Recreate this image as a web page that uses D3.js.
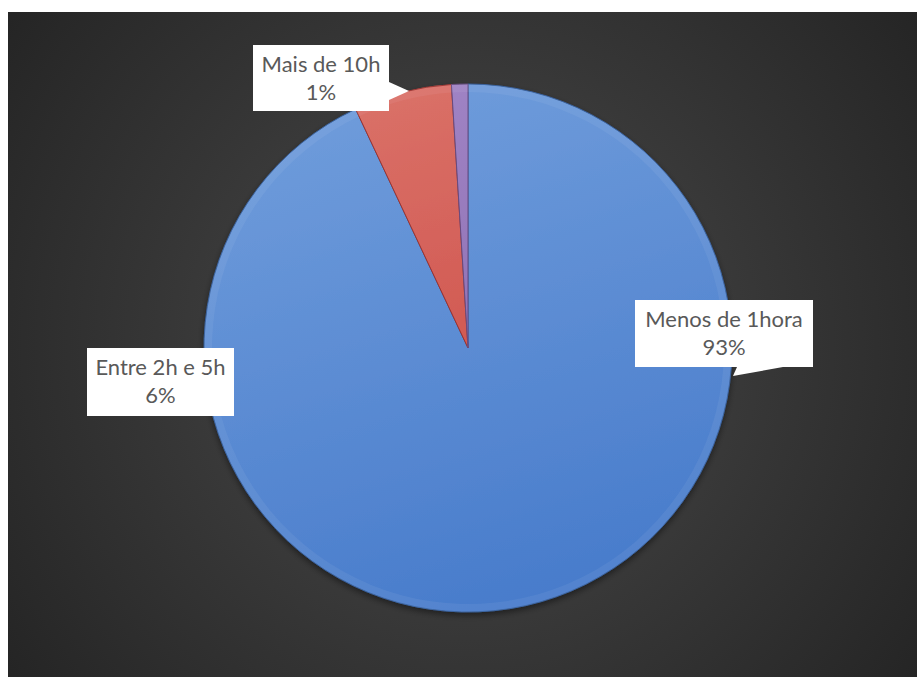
<!DOCTYPE html>
<html>
<head>
<meta charset="utf-8">
<script src="https://cdn.jsdelivr.net/npm/d3@7"></script>
<style>
  html, body { margin: 0; padding: 0; background: #ffffff; }
  svg { display: block; }
</style>
</head>
<body>
<svg id="chart" width="917" height="677"></svg>
<script>
// Tempo gasto: categorias e percentagens
const categories = ["Menos de 1hora", "Entre 2h e 5h", "Mais de 10h"];
const values = [93, 6, 1];
const valueLabels = ["93%", "6%", "1%"];

const W = 917, H = 677;
const svg = d3.select("#chart");
const defs = svg.append("defs");

// Dark panel with a soft radial glow
const bg = defs.append("radialGradient").attr("id", "bgGrad")
  .attr("gradientUnits", "userSpaceOnUse")
  .attr("cx", 465).attr("cy", 345).attr("r", 560);
bg.append("stop").attr("offset", "0%").attr("stop-color", "#4b4b4b");
bg.append("stop").attr("offset", "55%").attr("stop-color", "#363636");
bg.append("stop").attr("offset", "100%").attr("stop-color", "#252525");

svg.append("rect")
  .attr("x", 8).attr("y", 12).attr("width", W - 8).attr("height", H - 12)
  .attr("fill", "url(#bgGrad)");

// Slice colours (top, bottom)
const palette = [
  ["#6f9cdb", "#477bcb"],
  ["#da7168", "#c9423d"],
  ["#a084c5", "#8362a6"]
];
const cx = 468, cy = 348, R = 264;

// gradients are resolved in the pie group's own (centred) coordinates
palette.forEach((c, i) => {
  const g = defs.append("linearGradient").attr("id", "slice" + i)
    .attr("gradientUnits", "userSpaceOnUse")
    .attr("x1", -R * 0.3).attr("y1", -R).attr("x2", R * 0.3).attr("y2", R);
  g.append("stop").attr("offset", "0%").attr("stop-color", c[0]);
  g.append("stop").attr("offset", "100%").attr("stop-color", c[1]);
});

const shadow = defs.append("filter").attr("id", "pieShadow")
  .attr("x", "-10%").attr("y", "-10%").attr("width", "120%").attr("height", "120%");
shadow.append("feDropShadow").attr("dx", 0).attr("dy", 3).attr("stdDeviation", 3)
  .attr("flood-color", "#000").attr("flood-opacity", 0.45);

const pie = d3.pie().sort(null).value(d => d)
  .startAngle(0).endAngle(2 * Math.PI);
const arc = d3.arc().innerRadius(0).outerRadius(R);
const rim = d3.arc().innerRadius(R - 8).outerRadius(R);

const gPie = svg.append("g")
  .attr("transform", `translate(${cx},${cy})`)
  .attr("filter", "url(#pieShadow)");

const arcs = pie(values);
gPie.selectAll("path.slice").data(arcs).join("path")
  .attr("class", "slice")
  .attr("d", arc)
  .attr("fill", (d, i) => `url(#slice${i})`)
  .attr("stroke", (d, i) => d3.color(palette[i][1]).darker(0.7))
  .attr("stroke-width", 1);

// soft bevel along the rim
gPie.selectAll("path.rim").data(arcs).join("path")
  .attr("class", "rim")
  .attr("d", rim)
  .attr("fill", "#ffffff")
  .attr("opacity", 0.06);

// Label callouts
const labelLayout = [
  { x: 635, y: 300, w: 178, h: 67, tail: [[737, 367], [783, 367], [733, 376]] },
  { x: 87,  y: 348, w: 147, h: 68, tail: null },
  { x: 253, y: 45,  w: 136, h: 66, tail: [[389, 82], [389, 100], [409, 91]] }
];

const gLab = svg.append("g");
categories.forEach((cat, i) => {
  const L = labelLayout[i];
  const g = gLab.append("g");
  g.append("rect")
    .attr("x", L.x).attr("y", L.y).attr("width", L.w).attr("height", L.h)
    .attr("fill", "#ffffff");
  if (L.tail) {
    g.append("path")
      .attr("d", d3.line()(L.tail) + "Z")
      .attr("fill", "#ffffff");
  }
  const t = g.append("text")
    .attr("x", L.x + L.w / 2)
    .attr("text-anchor", "middle")
    .attr("font-family", "Lato, 'Open Sans', sans-serif")
    .attr("font-size", 22)
    .attr("fill", "#595959");
  t.append("tspan").attr("x", L.x + L.w / 2).attr("y", L.y + 27).text(cat);
  t.append("tspan").attr("x", L.x + L.w / 2).attr("y", L.y + 55).text(valueLabels[i]);
});
</script>
</body>
</html>
